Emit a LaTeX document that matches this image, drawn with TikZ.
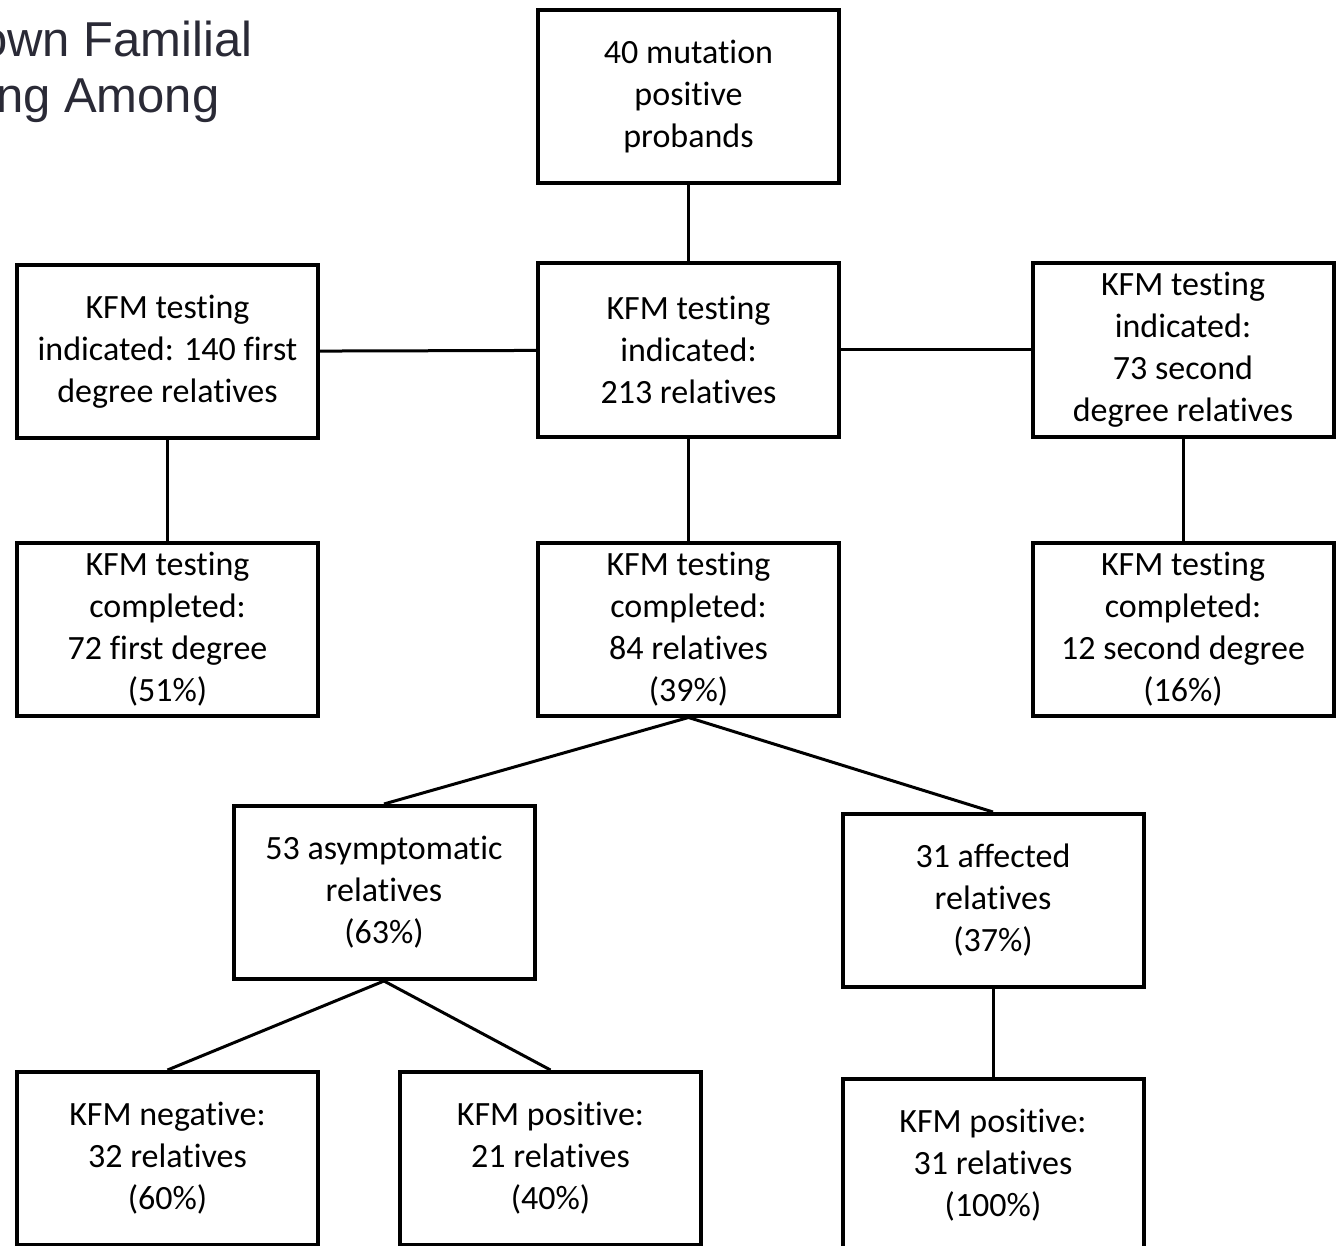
\documentclass[tikz,border=0pt]{standalone}
\usepackage{fontspec}
\setmainfont{Carlito}[Ligatures=NoCommon]
\newfontfamily\titlefont{Liberation Sans}
\definecolor{titlegray}{RGB}{42,42,54}

\begin{document}
\begin{tikzpicture}[x=1pt, y=-1pt,
        box/.style={draw, line width=4pt, minimum width=301pt, minimum height=173pt,
            align=center, inner sep=0pt, font=\fontsize{34}{42}\selectfont,
            execute at begin node={\rule{0pt}{31pt}}},
        link/.style={line width=3pt},
        heading/.style={anchor=base east, text=titlegray, font=\titlefont\fontsize{49}{56}\selectfont}]
        \clip (0,0) rectangle (1336,1246);

        % title, cut at the left edge
        \node[heading] (title1) at (256,57) {own Familial};
        \node[heading] (title2) at (223,113) {ing Among};

        % first rows
        \node[box] (probands) at (688.5,96.5) {40 mutation\\positive\\probands};
        \node[box] (indicated) at (688.5,350) {KFM testing\\indicated:\\213 relatives};
        \node[box] (firstind) at (167.5,351.5) {KFM testing\\indicated: 140 first\\degree relatives};
        \node[box] (secondind) at (1183,350) {KFM testing\\indicated:\\73 second\\degree relatives};
        \node[box] (completed) at (688.5,629) {KFM testing\\completed:\\84 relatives\\(39\%)};
        \node[box] (firstdone) at (167.5,629) {KFM testing\\completed:\\72 first degree\\(51\%)};
        \node[box] (seconddone) at (1183,629) {KFM testing\\completed:\\12 second degree\\(16\%)};

        % split of the tested relatives
        \node[box] (asym) at (384,892.5) {53 asymptomatic\\relatives\\(63\%)};
        \node[box] (affected) at (993,900.5) {31 affected\\relatives\\(37\%)};
        \node[box] (negative) at (167.5,1158.5) {KFM negative:\\32 relatives\\(60\%)};
        \node[box] (positive) at (550.5,1158.5) {KFM positive:\\21 relatives\\(40\%)};
        \node[box] (allpos) at (993,1165.5) {KFM positive:\\31 relatives\\(100\%)};

        \draw[link] (probands) -- (indicated);
        \draw[link] (indicated) -- (firstind);
        \draw[link] (indicated) -- (secondind);
        \draw[link] (firstind) -- (firstdone);
        \draw[link] (secondind) -- (seconddone);
        \draw[link] (indicated) -- (completed);
        \draw[link] (completed.south) -- (asym.north);
        \draw[link] (completed.south) -- (affected.north);
        \draw[link] (asym.south) -- (negative.north);
        \draw[link] (asym.south) -- (positive.north);
        \draw[link] (affected) -- (allpos);
    \end{tikzpicture}
\end{document}
